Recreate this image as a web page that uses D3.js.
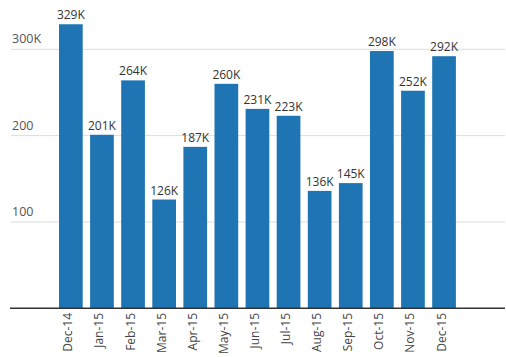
<!DOCTYPE html>
<html>
<head>
<meta charset="utf-8">
<script src="https://cdn.jsdelivr.net/npm/d3@7"></script>
<style>
  html, body { margin: 0; padding: 0; background: #fff; }
  svg { display: block; }
  text { font-family: "Open Sans", sans-serif; }
</style>
</head>
<body>
<div id="chart"></div>
<script>
const months = ["Dec-14","Jan-15","Feb-15","Mar-15","Apr-15","May-15","Jun-15","Jul-15","Aug-15","Sep-15","Oct-15","Nov-15","Dec-15"];
const values = [329, 201, 264, 126, 187, 260, 231, 223, 136, 145, 298, 252, 292];
const valueLabels = ["329K","201K","264K","126K","187K","260K","231K","223K","136K","145K","298K","252K","292K"];
const yTicks = [100, 200, 300];
const yTickLabels = ["100", "200", "300K"];

const W = 506, H = 357;
const svg = d3.select("#chart").append("svg").attr("width", W).attr("height", H);

const x = d3.scaleBand().domain(months).range([55.3, 459.6]).paddingInner(0.238).paddingOuter(0.119);
const y = d3.scaleLinear().domain([0, 300]).range([308.3, 49.3]);

// gridlines
svg.append("g").selectAll("line").data(yTicks).join("line")
  .attr("x1", 11).attr("x2", 505)
  .attr("y1", d => y(d)).attr("y2", d => y(d))
  .attr("stroke", "#dcdcdc").attr("stroke-width", 1);

// y labels
svg.append("g").selectAll("text").data(yTicks).join("text")
  .attr("x", 12).attr("y", d => y(d) - 6)
  .attr("font-size", 12.5).attr("fill", "#555")
  .text((d, i) => yTickLabels[i]);

// bars
svg.append("g").selectAll("rect").data(values).join("rect")
  .attr("x", (d, i) => x(months[i]))
  .attr("width", x.bandwidth())
  .attr("y", d => y(d))
  .attr("height", d => y(0) - y(d))
  .attr("fill", "#1f74b4");

// value labels
svg.append("g").selectAll("text").data(values).join("text")
  .attr("x", (d, i) => x(months[i]) + x.bandwidth() / 2)
  .attr("y", d => y(d) - 5)
  .attr("text-anchor", "middle")
  .attr("font-size", 12).attr("fill", "#333")
  .text((d, i) => valueLabels[i]);

// x axis baseline
svg.append("line")
  .attr("x1", 10).attr("x2", 505)
  .attr("y1", y(0)).attr("y2", y(0))
  .attr("stroke", "#333").attr("stroke-width", 1.5);

// x labels
svg.append("g").selectAll("text").data(months).join("text")
  .attr("transform", d => `translate(${x(d) + x.bandwidth() / 2},313) rotate(-90)`)
  .attr("text-anchor", "end")
  .attr("dy", "0.12em")
  .attr("font-size", 12).attr("fill", "#444")
  .text(d => d);
</script>
</body>
</html>
